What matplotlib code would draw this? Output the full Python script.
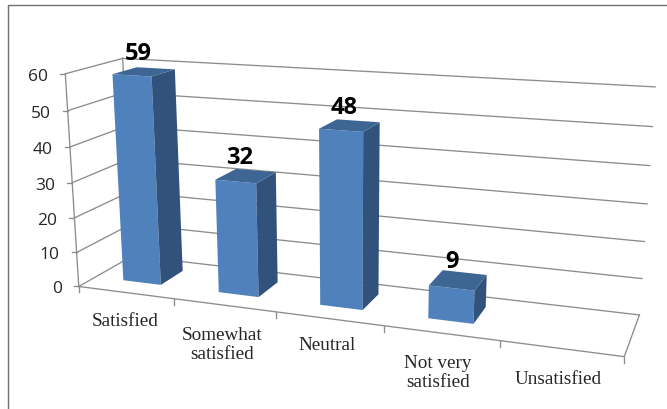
import numpy as np
import matplotlib
matplotlib.use('Agg')
import matplotlib.pyplot as plt
from matplotlib.patches import Polygon

categories = ['Satisfied', 'Somewhat\nsatisfied', 'Neutral', 'Not very\nsatisfied', 'Unsatisfied']
values = [59, 32, 48, 9, None]
y_ticks = [0, 10, 20, 30, 40, 50, 60]

# where the category labels sit, pixels
label_pos = [(125, 322), (222, 345), (327, 346), (438, 373), (558, 380)]

FRONT = '#4f81bd'
SIDE = '#31527b'
TOP = '#3d6694'
GRID = '#8c8c8c'

# camera fit: (category pos, depth, value) -> pixel
calib = [
    ((0, 0, 0), (80, 287)), ((5, 0, 0), (624, 358)),
    ((0, 1, 0), (131, 257)), ((5, 1, 0), (640, 315)),
    ((0, 0, 60), (64, 74)), ((0, 1, 60), (124, 60)),
    ((5, 1, 60), (655, 88)),
    ((1, 0, 0), (175, 300)), ((2, 0, 0), (276, 313)),
    ((3, 0, 0), (384, 327)), ((4, 0, 0), (500, 342)),
]

A = []
b = []
for (u, w, v), (px, py) in calib:
    X = [u, w, v, 1]
    A.append(X + [0, 0, 0, 0] + [-px * c for c in X[:3]])
    b.append(px)
    A.append([0, 0, 0, 0] + X + [-py * c for c in X[:3]])
    b.append(py)
p = np.linalg.lstsq(np.array(A, float), np.array(b, float), rcond=None)[0]
P = np.append(p, 1).reshape(3, 4)


def proj(u, w, v):
    r = P @ np.array([u, w, v, 1.0])
    return r[0] / r[2], r[1] / r[2]


fig = plt.figure(figsize=(6.67, 4.10), dpi=100)
ax = fig.add_axes([0, 0, 1, 1])
ax.set_xlim(0, 667)
ax.set_ylim(410, 0)
ax.axis('off')

# outer frame, only top and left show
ax.plot([7.5, 7.5, 667], [410, 5.5, 5.5], color='#6e6e6e', lw=1.0)


def seg(a, b):
    ax.plot([a[0], b[0]], [a[1], b[1]], color=GRID, lw=0.95, zorder=1)


for t in y_ticks:
    seg(proj(0, 0, t), proj(0, 1, t))
    seg(proj(0, 1, t), proj(5, 1, t))
    x, y = proj(0, 0, t)
    seg((x - 5, y), (x, y))
    ax.text(x - 17, y + 2, str(t), ha='right', va='center', fontsize=12.5,
            family='Open Sans', color='#262626')

seg(proj(0, 0, 0), proj(0, 0, 60))
seg(proj(0, 1, 0), proj(0, 1, 60))
seg(proj(0, 0, 0), proj(5, 0, 0))
seg(proj(5, 0, 0), proj(5, 1, 0))
for i in range(6):
    x, y = proj(i, 0, 0)
    seg((x, y), (x, y + 6))

u_half = 0.2
w0, w1 = 0.3, 0.74
for i, val in enumerate(values):
    if val is None:
        continue
    u0 = i + 0.5 - u_half
    u1 = i + 0.5 + u_half
    front = [proj(u0, w0, 0), proj(u1, w0, 0), proj(u1, w0, val), proj(u0, w0, val)]
    side = [proj(u1, w0, 0), proj(u1, w1, 0), proj(u1, w1, val), proj(u1, w0, val)]
    top = [proj(u0, w0, val), proj(u1, w0, val), proj(u1, w1, val), proj(u0, w1, val)]
    ax.add_patch(Polygon(front, color=FRONT, lw=0, zorder=3))
    ax.add_patch(Polygon(side, color=SIDE, lw=0, zorder=3))
    ax.add_patch(Polygon(top, color=TOP, lw=0, zorder=3))
    cx = np.mean([c[0] for c in top])
    cy = np.mean([c[1] for c in top])
    ax.text(cx - 6, cy - 19, str(val), ha='center', va='center', fontsize=17,
            fontweight='bold', family='Open Sans', color='black', zorder=4)

for name, (x, y) in zip(categories, label_pos):
    ax.text(x, y, name, ha='center', va='center', fontsize=13.8,
            family='Liberation Serif', color='#262626', linespacing=1.2)

fig.savefig('out.png', dpi=100)
